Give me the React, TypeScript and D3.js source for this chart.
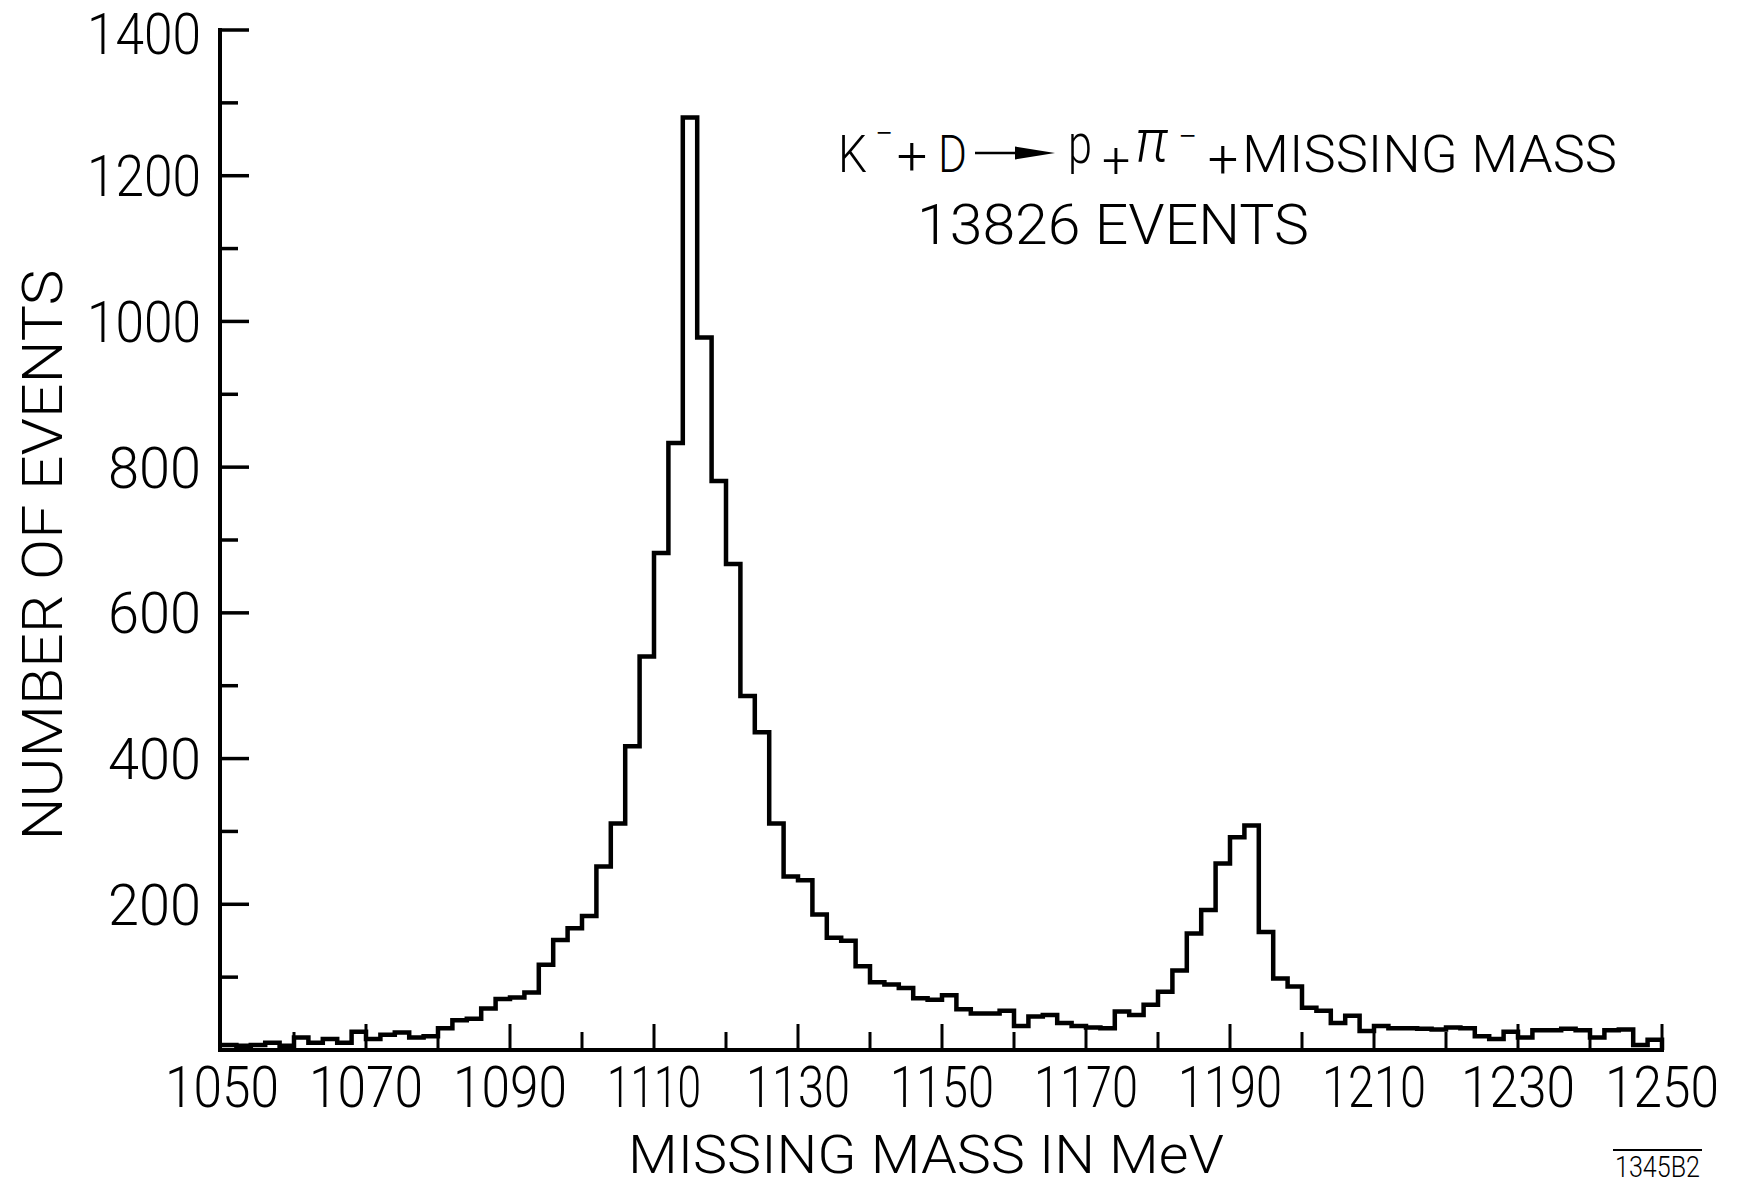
import React from 'react';
import * as d3 from 'd3';

// lower edge of each 2 MeV bin
const binLow = [
  1050, 1052, 1054, 1056, 1058, 1060, 1062, 1064, 1066, 1068,
  1070, 1072, 1074, 1076, 1078, 1080, 1082, 1084, 1086, 1088,
  1090, 1092, 1094, 1096, 1098, 1100, 1102, 1104, 1106, 1108,
  1110, 1112, 1114, 1116, 1118, 1120, 1122, 1124, 1126, 1128,
  1130, 1132, 1134, 1136, 1138, 1140, 1142, 1144, 1146, 1148,
  1150, 1152, 1154, 1156, 1158, 1160, 1162, 1164, 1166, 1168,
  1170, 1172, 1174, 1176, 1178, 1180, 1182, 1184, 1186, 1188,
  1190, 1192, 1194, 1196, 1198, 1200, 1202, 1204, 1206, 1208,
  1210, 1212, 1214, 1216, 1218, 1220, 1222, 1224, 1226, 1228,
  1230, 1232, 1234, 1236, 1238, 1240, 1242, 1244, 1246, 1248,
];

// events per bin
const counts = [
  7, 6, 7, 10, 6, 17, 10, 15, 10, 25,
  15, 21, 24, 17, 19, 30, 41, 43, 57, 70,
  72, 79, 117, 151, 167, 184, 252, 311, 417, 540,
  682, 833, 1280, 978, 781, 667, 486, 436, 311, 238,
  233, 186, 154, 150, 115, 93, 90, 85, 71, 69,
  75, 56, 50, 50, 54, 33, 46, 48, 37, 33,
  31, 30, 53, 48, 62, 80, 109, 160, 192, 256,
  292, 308, 162, 98, 87, 58, 54, 37, 47, 26,
  33, 30, 30, 29, 28, 31, 30, 19, 15, 25,
  17, 27, 27, 29, 27, 17, 27, 28, 7, 14,
];

const massTicks = [1060, 1070, 1080, 1090, 1100, 1110, 1120, 1130, 1140, 1150,
  1160, 1170, 1180, 1190, 1200, 1210, 1220, 1230, 1240, 1250];
const massLabels = [1050, 1070, 1090, 1110, 1130, 1150, 1170, 1190, 1210, 1230, 1250];
const countTicks = [100, 200, 300, 400, 500, 600, 700, 800, 900, 1000, 1100, 1200, 1300, 1400];
const countLabels = [200, 400, 600, 800, 1000, 1200, 1400];

const width = 1737;
const height = 1188;
const font = "Roboto, 'DejaVu Sans', sans-serif";

// Leroy-style digits: the "1" is only a stroke
const labelWidth = (s: string) => s.split('').reduce((w, c) => w + (c === '1' ? 21 : 31), 0);

const App = () => {
  const x = d3.scaleLinear().domain([1050, 1250]).range([222, 1662]);
  const y = d3.scaleLinear().domain([0, 1400]).range([1050, 30]);

  const pts: [number, number][] = binLow.map((m, i) => [m, counts[i]]);
  pts.push([1250, counts[counts.length - 1]]);
  pts.push([1250, 0]);
  const line = d3.line<[number, number]>()
    .x(d => x(d[0]))
    .y(d => y(d[1]))
    .curve(d3.curveStepAfter);

  const axisX = x(1050) - 2;

  return (
    <svg width={width} height={height} style={{ position: 'absolute', left: 0, top: 0, background: '#fff' }}
      fontFamily={font} fontWeight={300}>
      <rect x={0} y={0} width={width} height={height} fill="#fff" />

      {/* y axis */}
      <line x1={axisX} x2={axisX} y1={y(1400) - 2} y2={y(0) + 2} stroke="#000" strokeWidth={4} />
      {countTicks.map(t => (
        <line key={t} x1={axisX} x2={axisX + (t % 200 === 0 ? 29 : 18)} y1={y(t)} y2={y(t)}
          stroke="#000" strokeWidth={3.5} />
      ))}
      {countLabels.map(t => (
        <text key={t} x={201} y={y(t) + (t === 1400 ? 3 : 0)} dy="0.36em" textAnchor="end" fontSize={57}
          textLength={labelWidth(String(t))} lengthAdjust="spacingAndGlyphs">{t}</text>
      ))}

      {/* x axis */}
      <line x1={axisX} x2={x(1250) + 2} y1={y(0)} y2={y(0)} stroke="#000" strokeWidth={4} />
      {massTicks.map(t => (
        <line key={t} x1={x(t)} x2={x(t)} y1={y(0)} y2={y(0) - ((t - 1050) % 20 === 0 ? 26 : 18)}
          stroke="#000" strokeWidth={3} />
      ))}
      {massLabels.map(t => (
        <text key={t} x={x(t)} y={1107} textAnchor="middle" fontSize={58}
          textLength={labelWidth(String(t))} lengthAdjust="spacingAndGlyphs">{t}</text>
      ))}

      {/* histogram */}
      <path d={line(pts) || ''} fill="none" stroke="#000" strokeWidth={4.5} strokeLinejoin="miter" />

      {/* axis titles */}
      <text transform="translate(62,555) rotate(-90)" textAnchor="middle" fontSize={56}
        textLength={571} lengthAdjust="spacingAndGlyphs">NUMBER OF EVENTS</text>
      <text x={926} y={1173} textAnchor="middle" fontSize={54}
        textLength={596} lengthAdjust="spacingAndGlyphs">MISSING MASS IN MeV</text>

      {/* reaction */}
      <g fontSize={52}>
        <text x={838} y={172} textLength={29} lengthAdjust="spacingAndGlyphs">K</text>
        <text x={875} y={145} fontSize={34} textLength={18} lengthAdjust="spacingAndGlyphs">−</text>
        <text x={912} y={175} textAnchor="middle" fontSize={54}>+</text>
        <text x={938} y={172} textLength={29} lengthAdjust="spacingAndGlyphs">D</text>
        <line x1={975} x2={1025} y1={153} y2={153} stroke="#000" strokeWidth={2.5} />
        <path d="M1015,146.5 L1055,153 L1015,159.5 Z" fill="#000" />
        <text x={1068} y={163} fontSize={56} textLength={24} lengthAdjust="spacingAndGlyphs">p</text>
        <text x={1116} y={177} textAnchor="middle" fontSize={50}>+</text>
        <text x={1135} y={161} fontSize={60} fontStyle="italic" textLength={33} lengthAdjust="spacingAndGlyphs">π</text>
        <text x={1178} y={148} fontSize={34} textLength={19} lengthAdjust="spacingAndGlyphs">−</text>
        <text x={1223} y={178} textAnchor="middle" fontSize={54}>+</text>
        <text x={1242} y={172} textLength={375} lengthAdjust="spacingAndGlyphs">MISSING MASS</text>
      </g>
      <text x={917} y={244} fontSize={55} textLength={392} lengthAdjust="spacingAndGlyphs">13826 EVENTS</text>

      {/* drawing number */}
      <line x1={1613} x2={1702} y1={1150} y2={1150} stroke="#000" strokeWidth={2} />
      <text x={1615} y={1177} fontSize={29} textLength={85} lengthAdjust="spacingAndGlyphs">1345B2</text>
    </svg>
  );
};

export default App;
